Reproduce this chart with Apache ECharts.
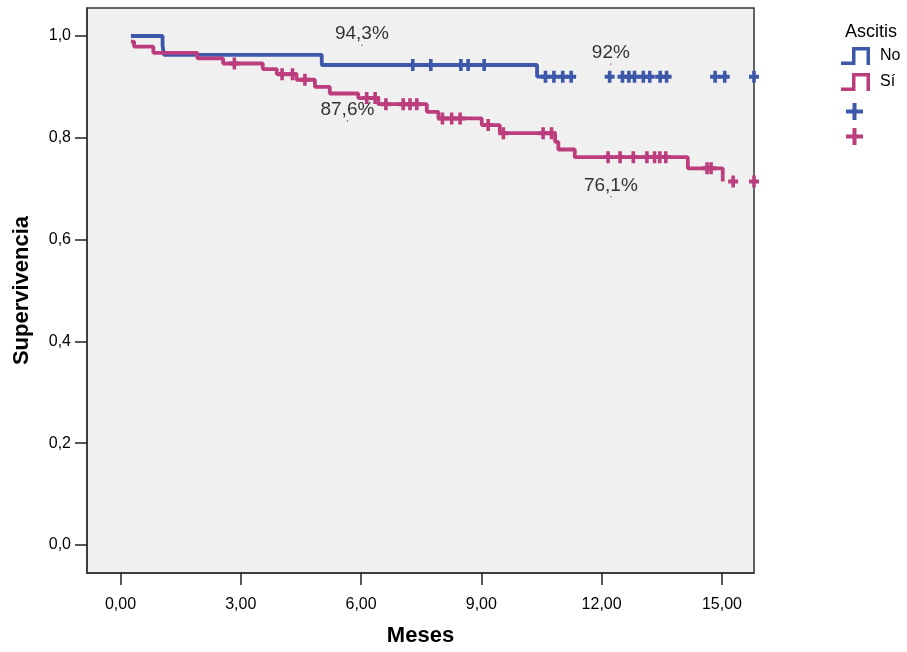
<!DOCTYPE html>
<html>
<head>
<meta charset="utf-8">
<script src="https://cdn.jsdelivr.net/npm/echarts@6/dist/echarts.min.js"></script>
<style>
  html, body { margin: 0; padding: 0; background: #fff; }
  #chart { width: 907px; height: 652px; }
</style>
</head>
<body>
<div id="chart"></div>
<script>
// Kaplan-Meier: Supervivencia según ascitis
const xTicks = [0, 3, 6, 9, 12, 15]
const yTicks = [0, 0.2, 0.4, 0.6, 0.8, 1.0]

// grupo "No"
const noTimes = [0.26, 1.05, 1.085, 5.02, 10.39, 10.6]
const noSurv = [1.0, 0.981, 0.963, 0.943, 0.92, 0.92]
const noCensTimes = [7.29, 7.74, 8.49, 8.67, 9.07, 10.60, 10.81, 11.03, 11.24, 12.20, 12.52, 12.68, 12.82, 13.04, 13.20, 13.46, 13.62, 14.83, 15.07, 15.8]
const noCensSurv = [0.943, 0.943, 0.943, 0.943, 0.943, 0.92, 0.92, 0.92, 0.92, 0.92, 0.92, 0.92, 0.92, 0.92, 0.92, 0.92, 0.92, 0.92, 0.92, 0.92]

// grupo "Sí"
const siTimes = [0.26, 0.34, 0.82, 1.92, 2.56, 3.55, 3.90, 4.39, 4.85, 5.22, 5.93, 6.43, 7.64, 7.93, 9.01, 9.46, 10.84, 10.92, 11.33, 14.15, 15.02]
const siSurv = [0.989, 0.979, 0.967, 0.956, 0.946, 0.935, 0.925, 0.914, 0.900, 0.887, 0.878, 0.866, 0.851, 0.838, 0.825, 0.809, 0.792, 0.777, 0.762, 0.740, 0.714]
const siCensTimes = [2.84, 4.03, 4.29, 4.60, 6.14, 6.35, 6.62, 7.05, 7.22, 7.39, 8.03, 8.26, 8.47, 9.17, 9.55, 10.54, 10.75, 12.16, 12.46, 12.79, 13.13, 13.32, 13.45, 13.60, 14.63, 14.73, 15.28, 15.8]
const siCensSurv = [0.946, 0.925, 0.925, 0.914, 0.878, 0.878, 0.866, 0.866, 0.866, 0.866, 0.838, 0.838, 0.838, 0.825, 0.809, 0.809, 0.809, 0.762, 0.762, 0.762, 0.762, 0.762, 0.762, 0.762, 0.740, 0.740, 0.714, 0.714]

// anotaciones
const noteText = ['94,3%', '87,6%', '92%', '76,1%']
const noteX = [6.02, 5.66, 12.23, 12.23]
const noteY = [0.982, 0.833, 0.945, 0.684]

const BLUE = '#3d58a9'
const PINK = '#bb3d7d'
const PLUS = 'path://M3.2,0 H6.8 V3.7 H10 V7.3 H6.8 V11 H3.2 V7.3 H0 V3.7 H3.2 Z'
const PLUS_LEG = 'path://M6.5,0 H10.5 V6.5 H17 V10.5 H10.5 V17 H6.5 V10.5 H0 V6.5 H6.5 Z'
const STEP = 'path://M0,29 L22,29 L22,0 L58,0 L58,36 L51,36 L51,7 L29,7 L29,36 L0,36 Z'

const zip = (xs, ys) => xs.map((x, i) => [x, ys[i]])
const comma = (v, d) => v.toFixed(d).replace('.', ',')

const chart = echarts.init(document.getElementById('chart'), null, { renderer: 'canvas' })

chart.setOption({
    animation: false,
    textStyle: { fontFamily: 'Liberation Sans, Arial, sans-serif' },
    title: {
        text: 'Ascitis',
        left: 845,
        top: 23,
        padding: 0,
        textStyle: { fontSize: 18, fontWeight: 'normal', color: '#000' }
    },
    legend: [{
        orient: 'vertical',
        left: 841,
        top: 47,
        padding: 0,
        itemWidth: 29,
        itemHeight: 18,
        itemGap: 8,
        selectedMode: false,
        itemStyle: { borderWidth: 0 },
        textStyle: { fontSize: 16, color: '#000', padding: [0, 0, 0, 5] },
        data: [
            { name: 'No', icon: STEP, itemStyle: { color: BLUE } },
            { name: 'Sí', icon: STEP, itemStyle: { color: PINK } }
        ]
    }, {
        orient: 'vertical',
        left: 846,
        top: 103,
        padding: 0,
        itemWidth: 17,
        itemHeight: 17,
        itemGap: 8,
        selectedMode: false,
        itemStyle: { borderWidth: 0 },
        formatter: () => '',
        data: [
            { name: 'No+', icon: PLUS_LEG, itemStyle: { color: BLUE } },
            { name: 'Sí+', icon: PLUS_LEG, itemStyle: { color: PINK } }
        ]
    }],
    grid: {
        left: 87,
        right: 153,
        top: 8,
        bottom: 79,
        outerBoundsMode: 'none',
        containLabel: false,
        show: true,
        backgroundColor: '#f0f0f0',
        borderColor: '#333',
        borderWidth: 1.5
    },
    xAxis: {
        type: 'value',
        min: -0.835,
        max: 15.8,
        name: 'Meses',
        nameLocation: 'middle',
        nameGap: 52,
        nameTextStyle: { fontSize: 22, fontWeight: 'bold', color: '#000' },
        axisLine: { show: true, onZero: false, lineStyle: { color: '#333', width: 1.5 } },
        axisTick: { show: true, length: 12, customValues: xTicks, lineStyle: { color: '#222', width: 1.5 } },
        axisLabel: { customValues: xTicks, margin: 24, fontSize: 16, color: '#000', formatter: v => comma(v, 2) },
        splitLine: { show: false }
    },
    yAxis: {
        type: 'value',
        min: -0.055,
        max: 1.055,
        name: 'Supervivencia',
        nameLocation: 'middle',
        nameGap: 54,
        nameTextStyle: { fontSize: 22, fontWeight: 'bold', color: '#000' },
        axisLine: { show: true, onZero: false, lineStyle: { color: '#333', width: 1.5 } },
        axisTick: { show: true, length: 12, customValues: yTicks, lineStyle: { color: '#222', width: 1.5 } },
        axisLabel: { customValues: yTicks, margin: 16, fontSize: 16, color: '#000', formatter: v => comma(v, 1) },
        splitLine: { show: false }
    },
    series: [{
        name: 'No',
        type: 'line',
        step: 'end',
        showSymbol: false,
        symbol: 'none',
        color: BLUE,
        lineStyle: { color: BLUE, width: 3.8 },
        data: zip(noTimes, noSurv)
    }, {
        name: 'Sí',
        type: 'line',
        step: 'end',
        showSymbol: false,
        symbol: 'none',
        color: PINK,
        lineStyle: { color: PINK, width: 3.8 },
        data: zip(siTimes, siSurv)
    }, {
        name: 'No+',
        type: 'scatter',
        symbol: PLUS,
        symbolSize: [10, 12],
        itemStyle: { color: BLUE, opacity: 1 },
        data: zip(noCensTimes, noCensSurv)
    }, {
        name: 'Sí+',
        type: 'scatter',
        symbol: PLUS,
        symbolSize: [10, 12],
        itemStyle: { color: PINK, opacity: 1 },
        data: zip(siCensTimes, siCensSurv)
    }, {
        name: 'notas',
        type: 'scatter',
        symbol: 'circle',
        symbolSize: 1.5,
        silent: true,
        itemStyle: { color: '#444' },
        label: {
            show: true,
            position: 'top',
            distance: 1,
            fontSize: 19,
            color: '#000',
            formatter: p => p.value[2]
        },
        data: noteX.map((x, i) => [x, noteY[i], noteText[i]])
    }]
})
</script>
</body>
</html>
